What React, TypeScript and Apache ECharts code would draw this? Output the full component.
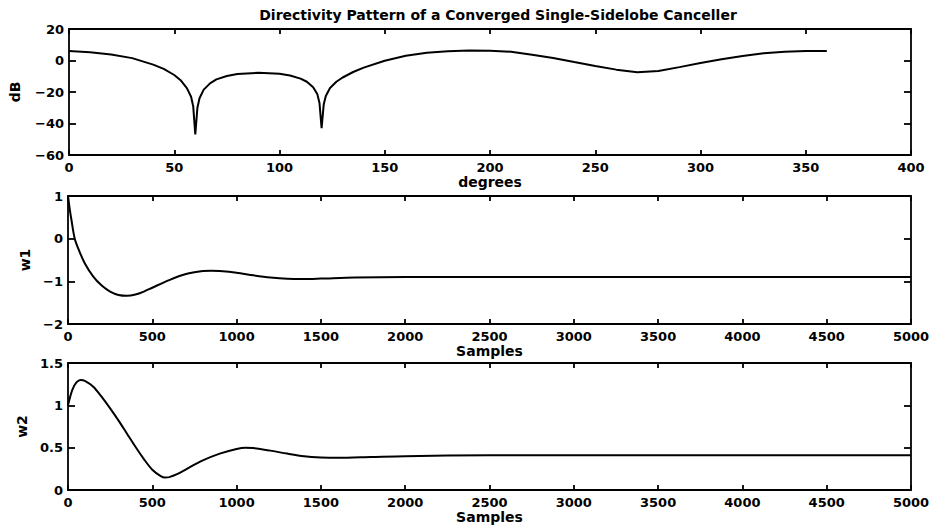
import React, { useEffect, useRef } from "react";
import * as echarts from "echarts";

const titleText = "Directivity Pattern of a Converged Single-Sidelobe Canceller";

const degrees = [0, 10, 20, 30, 40, 45, 50, 53, 56, 58, 59, 60, 61, 62, 64, 67, 70, 75, 80, 90, 100, 105, 110, 113, 116, 118, 119, 120, 121, 122, 124, 127, 130, 135, 140, 150, 160, 170, 180, 190, 200, 210, 220, 230, 240, 250, 260, 270, 280, 290, 300, 310, 320, 330, 340, 350, 360];
const dbValues = [6.0, 5.2, 3.8, 1.5, -2.6, -5.3, -9.2, -12.5, -17.5, -23, -29, -47, -30, -24, -18.5, -14.5, -12, -9.8, -8.6, -7.8, -8.4, -9.5, -11.5, -13.5, -17, -21.5, -27, -43, -28, -22.5, -17.5, -13.5, -10.8, -7.3, -4.5, -0.2, 3.0, 4.9, 5.8, 6.3, 6.2, 5.6, 3.6, 1.6, -1.0, -3.5, -5.8, -7.5, -6.6, -4.2, -1.6, 0.8, 2.9, 4.6, 5.6, 6.0, 6.1];

const w1Samples = [0, 10, 20, 40, 70, 100, 150, 200, 250, 300, 350, 400, 450, 500, 600, 700, 800, 850, 900, 1000, 1100, 1200, 1300, 1400, 1500, 1700, 2000, 2500, 3000, 3500, 4000, 4500, 5000];
const w1Values = [1.0, 0.7, 0.45, 0.0, -0.32, -0.58, -0.89, -1.1, -1.24, -1.32, -1.34, -1.31, -1.24, -1.15, -0.97, -0.83, -0.76, -0.75, -0.76, -0.8, -0.86, -0.91, -0.94, -0.945, -0.935, -0.91, -0.9, -0.9, -0.9, -0.9, -0.9, -0.9, -0.9];

const w2Samples = [0, 25, 50, 75, 100, 150, 200, 250, 300, 350, 400, 450, 500, 550, 575, 600, 650, 700, 800, 900, 1000, 1050, 1100, 1200, 1300, 1400, 1500, 1600, 1800, 2000, 2500, 3000, 3500, 4000, 4500, 5000];
const w2Values = [1.0, 1.18, 1.27, 1.3, 1.29, 1.22, 1.1, 0.965, 0.82, 0.665, 0.51, 0.365, 0.24, 0.165, 0.148, 0.152, 0.19, 0.245, 0.35, 0.43, 0.485, 0.5, 0.495, 0.465, 0.43, 0.4, 0.385, 0.38, 0.39, 0.4, 0.41, 0.41, 0.41, 0.41, 0.41, 0.41];

const xNames = ["degrees", "Samples", "Samples"];
const yNames = ["dB", "w1", "w2"];
const xRanges = [[0, 400, 50], [0, 5000, 500], [0, 5000, 500]];
const yRanges = [[-60, 20, 20], [-2, 1, 1], [0, 1.5, 0.5]];

const FONT = "DejaVu Sans";

export default function App() {
  const ref = useRef<HTMLDivElement>(null);
  useEffect(() => {
    if (!ref.current) return;
    const chart = echarts.init(ref.current, null, { renderer: "svg" });
    const grids = [
      { left: 68, right: 22, top: 29, height: 126 },
      { left: 68, right: 22, top: 196, height: 128 },
      { left: 68, right: 22, top: 363, height: 127 },
    ];
    const fmt = (v: number) => String(v).replace("-", "\u2212");
    const lineStyle = { color: "#000", width: 1.8 };
    const xAxis: any[] = [];
    const yAxis: any[] = [];
    const yNameGaps = [47, 36, 36];
    grids.forEach((g, i) => {
      const [xmin, xmax, xint] = xRanges[i];
      const [ymin, ymax, yint] = yRanges[i];
      xAxis.push({
        type: "value", gridIndex: i, min: xmin, max: xmax, interval: xint,
        position: "bottom",
        name: xNames[i], nameLocation: "middle", nameGap: 20,
        nameTextStyle: { color: "#000", fontFamily: FONT, fontWeight: "bold", fontSize: 14 },
        axisLine: { show: true, onZero: false, lineStyle },
        axisTick: { show: true, inside: true, length: 5, lineStyle },
        axisLabel: { color: "#000", fontFamily: FONT, fontWeight: "bold", fontSize: 13, margin: 6, formatter: fmt },
        splitLine: { show: false },
      });
      xAxis.push({
        type: "value", gridIndex: i, min: xmin, max: xmax, interval: xint,
        position: "top",
        axisLine: { show: true, onZero: false, lineStyle },
        axisTick: { show: true, inside: true, length: 5, lineStyle },
        axisLabel: { show: false },
        splitLine: { show: false },
      });
      yAxis.push({
        type: "value", gridIndex: i, min: ymin, max: ymax, interval: yint,
        position: "left",
        name: yNames[i], nameLocation: "middle", nameGap: yNameGaps[i],
        nameTextStyle: { color: "#000", fontFamily: FONT, fontWeight: "bold", fontSize: 14 },
        axisLine: { show: true, onZero: false, lineStyle },
        axisTick: { show: true, inside: true, length: 7, lineStyle },
        axisLabel: { color: "#000", fontFamily: FONT, fontWeight: "bold", fontSize: 13, margin: 5, formatter: fmt },
        splitLine: { show: false },
      });
      yAxis.push({
        type: "value", gridIndex: i, min: ymin, max: ymax, interval: yint,
        position: "right",
        axisLine: { show: true, onZero: false, lineStyle },
        axisTick: { show: true, inside: true, length: 7, lineStyle },
        axisLabel: { show: false },
        splitLine: { show: false },
      });
    });
    const mk = (xs: number[], ys: number[], i: number, smooth: boolean | number) => ({
      type: "line",
      xAxisIndex: i * 2,
      yAxisIndex: i * 2,
      data: xs.map((x, k) => [x, ys[k]]),
      showSymbol: false,
      smooth,
      lineStyle: { color: "#000", width: 2 },
    });
    chart.setOption({
      animation: false,
      backgroundColor: "#fff",
      title: {
        text: titleText, left: 493, top: 3, textAlign: "center",
        textStyle: { color: "#000", fontFamily: FONT, fontWeight: "bold", fontSize: 14 },
      },
      grid: grids,
      xAxis,
      yAxis,
      series: [
        mk(degrees, dbValues, 0, false),
        mk(w1Samples, w1Values, 1, 0.3),
        mk(w2Samples, w2Values, 2, 0.3),
      ],
    });
    return () => chart.dispose();
  }, []);
  return (
    <div
      ref={ref}
      style={{ position: "fixed", left: 0, top: 0, width: 933, height: 527, background: "#fff" }}
    />
  );
}
